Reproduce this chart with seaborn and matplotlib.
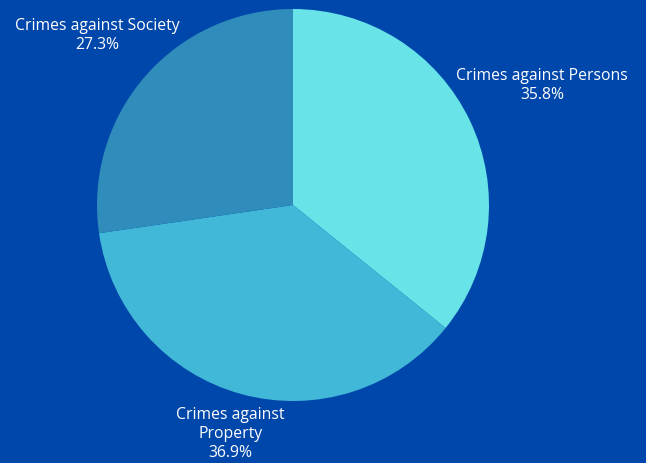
import numpy as np
import matplotlib.pyplot as plt
import seaborn as sns

categories = ['Crimes against Persons', 'Crimes against\nProperty', 'Crimes against Society']
shares = [35.8, 36.9, 27.3]
colors = ['#68E4E8', '#42B8D8', '#2F8CBB']
label_dist = [1.41, 1.21, 1.32]

sns.set_theme(style='white')
plt.rcParams['font.family'] = ['Open Sans', 'DejaVu Sans']

bg = '#0047AB'
fig = plt.figure(figsize=(6.46, 4.63), dpi=100, facecolor=bg)
ax = fig.add_axes([0, 0, 1, 1])
ax.set_facecolor(bg)

wedges, _ = ax.pie(shares, colors=colors, startangle=90, counterclock=False,
                   radius=1, wedgeprops=dict(linewidth=0))

# label each slice outside the pie
for w, name, val, d in zip(wedges, categories, shares, label_dist):
    ang = np.deg2rad((w.theta1 + w.theta2) / 2)
    x, y = d * np.cos(ang), d * np.sin(ang)
    ax.text(x, y, f'{name}\n{val:.1f}%', ha='center', va='center',
            color='white', fontsize=11.3, linespacing=1.25)

ax.set_xlim(-293 / 196, (646 - 293) / 196)
ax.set_ylim(-(463 - 205) / 196, 205 / 196)
ax.set_aspect('auto')
ax.axis('off')

fig.savefig('out.png', dpi=100, facecolor=bg)
